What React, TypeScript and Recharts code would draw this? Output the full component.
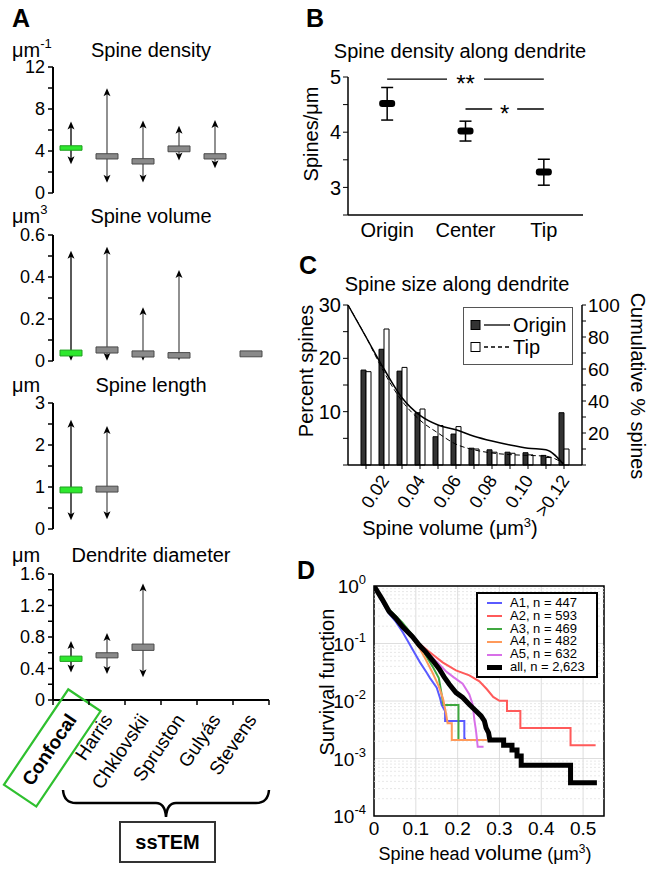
import React from 'react';
import {
  Bar,
  CartesianGrid,
  Cell,
  ComposedChart,
  ErrorBar,
  Legend,
  Line,
  LineChart,
  ReferenceArea,
  ReferenceLine,
  XAxis,
  YAxis,
} from 'recharts';

const FONT = '"Liberation Sans", Arial, Helvetica, sans-serif';

// ---------- A: confocal vs ssTEM studies ----------
const studies = ['Confocal', 'Harris', 'Chklovskii', 'Spruston', 'Gulyás', 'Stevens'];
const studyX = [0.5, 1.5, 2.5, 3.5, 4.5, 5.5];
const studyAxisTicks = [0, 0.5, 1, 1.5, 2, 2.5, 3, 3.5, 4, 4.5, 5, 5.5, 6];

const densityBox = [[4.07, 4.5], [3.24, 3.74], [2.76, 3.27], [3.93, 4.48], [3.24, 3.74], null];
const densityRange = [[2.75, 6.8], [0.98, 9.97], [1.0, 6.9], [3.1, 6.4], [2.35, 6.95], null];
const volumeBox = [[0.024, 0.052], [0.038, 0.067], [0.019, 0.048], [0.014, 0.04], null, [0.02, 0.048]];
const volumeRange = [[0.001, 0.525], [0.001, 0.544], [0.001, 0.256], [0.002, 0.433], null, null];
const lengthBox = [[0.86, 1.0], [0.88, 1.02], null, null, null, null];
const lengthRange = [[0.21, 2.6], [0.23, 2.45], null, null, null, null];
const diameterBox = [[0.49, 0.557], [0.535, 0.6], [0.63, 0.71], null, null, null];
const diameterRange = [[0.35, 0.75], [0.33, 0.85], [0.29, 1.48], null, null, null];

// ---------- B: density along dendrite ----------
const sites = ['Origin', 'Center', 'Tip'];
const siteMean = [4.52, 4.02, 3.28];
const siteLow = [4.22, 3.84, 3.04];
const siteHigh = [4.81, 4.2, 3.51];
const sigBars = [
  { from: 'Origin', to: 'Tip', y: 4.96, label: '**' },
  { from: 'Center', to: 'Tip', y: 4.42, label: '*' },
];

// ---------- C: spine size histogram ----------
const volBins = [0, 0.01, 0.02, 0.03, 0.04, 0.05, 0.06, 0.07, 0.08, 0.09, 0.1, 0.11, 0.12];
const originPct = [null, 17.8, 21.7, 17.6, 9.8, 5.3, 5.8, 3.15, 2.85, 2.4, 2.3, 1.8, 9.8];
const tipPct = [null, 17.5, 25.5, 18.3, 10.5, 7.4, 7.2, 3.0, 2.4, 2.2, 1.9, 1.4, 3.0];
const originCum = [100, 80, 60, 42, 31, 25, 22, 18, 15, 12.5, 10.5, 9.5, 0];
const tipCum = [100, 80, 58, 40, 28, 20, 13, 9.5, 7.5, 6.5, 6, 5.5, 1];
const volTicks = [0.01, 0.02, 0.03, 0.04, 0.05, 0.06, 0.07, 0.08, 0.09, 0.1, 0.11, 0.12];
const volTickLabels = ['', '0.02', '', '0.04', '', '0.06', '', '0.08', '', '0.10', '', '>0.12'];

// ---------- D: survival functions ----------
const a1Curve = [[0, 1], [0.02, 0.52], [0.036, 0.33], [0.052, 0.24], [0.068, 0.16], [0.078, 0.12], [0.094, 0.075], [0.11, 0.047], [0.125, 0.032], [0.134, 0.025], [0.15, 0.017], [0.158, 0.0112], [0.162, 0.0085], [0.17, 0.0067], [0.17, 0.0045], [0.216, 0.0045], [0.216, 0.0022], [0.22, 0.0022]];
const a2Curve = [[0, 1], [0.02, 0.6], [0.036, 0.38], [0.052, 0.28], [0.068, 0.2], [0.092, 0.135], [0.108, 0.1], [0.132, 0.072], [0.164, 0.047], [0.196, 0.034], [0.228, 0.028], [0.252, 0.022], [0.27, 0.016], [0.285, 0.0118], [0.3, 0.0101], [0.318, 0.0101], [0.318, 0.0067], [0.35, 0.0067], [0.35, 0.0034], [0.47, 0.0034], [0.47, 0.0017], [0.53, 0.0017]];
const a3Curve = [[0, 1], [0.02, 0.6], [0.036, 0.39], [0.052, 0.3], [0.068, 0.23], [0.09, 0.145], [0.108, 0.095], [0.124, 0.062], [0.14, 0.04], [0.155, 0.025], [0.162, 0.0128], [0.166, 0.0085], [0.202, 0.0085], [0.202, 0.0021], [0.268, 0.0021]];
const a4Curve = [[0, 1], [0.02, 0.58], [0.036, 0.38], [0.052, 0.29], [0.07, 0.2], [0.09, 0.13], [0.108, 0.085], [0.124, 0.052], [0.14, 0.031], [0.155, 0.018], [0.165, 0.011], [0.172, 0.0062], [0.176, 0.0041], [0.186, 0.0041], [0.186, 0.0021], [0.27, 0.0021]];
const a5Curve = [[0, 1], [0.02, 0.55], [0.036, 0.35], [0.052, 0.27], [0.07, 0.19], [0.09, 0.13], [0.11, 0.09], [0.13, 0.065], [0.15, 0.048], [0.172, 0.033], [0.19, 0.026], [0.212, 0.02], [0.228, 0.013], [0.236, 0.0087], [0.24, 0.0047], [0.244, 0.003], [0.248, 0.0016], [0.262, 0.0016]];
const allCurve = [[0, 1], [0.02, 0.58], [0.036, 0.36], [0.052, 0.276], [0.068, 0.197], [0.092, 0.131], [0.108, 0.094], [0.124, 0.071], [0.14, 0.051], [0.156, 0.036], [0.168, 0.026], [0.18, 0.0196], [0.196, 0.014], [0.212, 0.0115], [0.228, 0.0087], [0.244, 0.0067], [0.256, 0.0055], [0.264, 0.0045], [0.268, 0.0034], [0.274, 0.0028], [0.277, 0.0021], [0.31, 0.0021], [0.31, 0.0017], [0.33, 0.0017], [0.33, 0.0014], [0.342, 0.0014], [0.342, 0.0011], [0.352, 0.0011], [0.352, 0.00076], [0.47, 0.00076], [0.47, 0.00038], [0.533, 0.00038]];

const dSeries = [
  { name: 'A1, n = 447', curve: a1Curve, color: '#5a5aff', width: 2 },
  { name: 'A2, n = 593', curve: a2Curve, color: '#ff5a5a', width: 2 },
  { name: 'A3, n = 469', curve: a3Curve, color: '#40a840', width: 2 },
  { name: 'A4, n = 482', curve: a4Curve, color: '#ff9a5a', width: 2 },
  { name: 'A5, n = 632', curve: a5Curve, color: '#d870e8', width: 2 },
  { name: 'all, n = 2,623', curve: allCurve, color: '#000', width: 5 },
];
const decades = [0.0001, 0.001, 0.01, 0.1, 1];
const minorGrid = [
  0.0002, 0.0003, 0.0004, 0.0005, 0.0006, 0.0007, 0.0008, 0.0009,
  0.002, 0.003, 0.004, 0.005, 0.006, 0.007, 0.008, 0.009,
  0.02, 0.03, 0.04, 0.05, 0.06, 0.07, 0.08, 0.09,
  0.2, 0.3, 0.4, 0.5, 0.6, 0.7, 0.8, 0.9,
];

// ---------- shapes / ticks ----------
const Whisker = (props: any) => {
  const { x, y, width, height, payload } = props;
  if (height == null || !isFinite(y)) return null;
  const cx = x + width / 2;
  const top = y;
  const bot = y + height;
  const col = payload && payload.name === 'Confocal' ? '#000' : '#555';
  return (
    <g>
      <line x1={cx} x2={cx} y1={top + 5} y2={bot - 5} stroke={col} strokeWidth={1.3} />
      <path d={`M${cx},${top} L${cx - 3.5},${top + 8} L${cx},${top + 6} L${cx + 3.5},${top + 8} Z`} fill="#000" />
      <path d={`M${cx},${bot} L${cx - 3.5},${bot - 8} L${cx},${bot - 6} L${cx + 3.5},${bot - 8} Z`} fill="#000" />
    </g>
  );
};

const StudyTick = ({ x, y, payload }: any) => {
  const v = payload.value;
  if (Number.isInteger(v)) {
    return <line x1={x} x2={x} y1={y - 8} y2={y - 3} stroke="#000" strokeWidth={1.5} />;
  }
  const i = studyX.indexOf(v);
  const bold = i === 0;
  return (
    <g transform={`translate(${x + 1},${y + 8}) rotate(-56)`}>
      {bold && <rect x={-95} y={-18} width={115} height={39} fill="none" stroke="#2fc02f" strokeWidth={2.2} />}
      <text x={0} y={0} textAnchor="end" dominantBaseline="central" fontSize={19} fontWeight={bold ? 700 : 400} fill="#000" fontFamily={FONT}>
        {studies[i]}
      </text>
    </g>
  );
};

const MeanMark = ({ cx, cy }: any) => <rect x={cx - 8} y={cy - 3.5} width={16} height={7} rx={3} fill="#000" />;

const SigLabel = ({ viewBox, text }: any) => {
  if (!viewBox) return null;
  const cx = viewBox.x + viewBox.width / 2;
  const w = text.length === 2 ? 37 : 25;
  return (
    <g>
      <rect x={cx - w / 2} y={viewBox.y - 8} width={w} height={16} fill="#fff" />
      <text x={cx} y={viewBox.y + 13} textAnchor="middle" fontSize={24} fontFamily={FONT} fill="#000">
        {text}
      </text>
    </g>
  );
};

const VolTick = ({ x, y, index }: any) => {
  const label = volTickLabels[index];
  return (
    <g>
      <line x1={x} x2={x} y1={y - 8} y2={y - 4} stroke="#000" />
      {label && (
        <g transform={`translate(${x + 1},${y + 4}) rotate(-56)`}>
          <text x={0} y={0} textAnchor="end" dominantBaseline="central" fontSize={18} fontFamily={FONT} fill="#000">
            {label}
          </text>
        </g>
      )}
    </g>
  );
};

const PowTick = ({ x, y, payload }: any) => {
  const e = Math.round(Math.log10(payload.value));
  return (
    <text x={x} y={y + 7} textAnchor="end" fontSize={19} fontFamily={FONT} fill="#000">
      <tspan>10</tspan>
      <tspan fontSize={13} dy={-9}>{String(e)}</tspan>
    </text>
  );
};

const CLegend = () => (
  <div style={{ position: 'relative', width: 110, height: 58, border: '1px solid #555', boxSizing: 'border-box', background: '#fff', fontFamily: FONT, fontSize: 20 }}>
    {[
      { name: 'Origin', fill: '#333', dash: undefined },
      { name: 'Tip', fill: '#fff', dash: '4 3' },
    ].map((s, i) => (
      <div key={s.name} style={{ position: 'absolute', left: 6, top: 6 + i * 22, height: 22, display: 'flex', alignItems: 'center' }}>
        <svg width={42} height={12}>
          <rect x={1} y={1.5} width={9} height={9} fill={s.fill} stroke="#000" />
          <line x1={14} x2={40} y1={6} y2={6} stroke="#000" strokeWidth={1.3} strokeDasharray={s.dash} />
        </svg>
        <span style={{ marginLeft: 1, lineHeight: '22px' }}>{s.name}</span>
      </div>
    ))}
  </div>
);

const DLegend = ({ payload }: any) => (
  <div style={{ position: 'relative', width: 122, height: 86, border: '2px solid #000', boxSizing: 'border-box', background: '#fff', fontFamily: FONT, fontSize: 13 }}>
    {(payload || []).map((p: any, i: number) => {
      const s = dSeries.find((d) => d.name === p.value);
      return (
        <div key={p.value} style={{ position: 'absolute', left: 9, top: 3 + i * 12.8, height: 12.8, display: 'flex', alignItems: 'center', whiteSpace: 'nowrap' }}>
          <span style={{ display: 'inline-block', width: 15, height: s ? s.width : 2, background: p.color }} />
          <span style={{ marginLeft: 8, lineHeight: '12.8px' }}>{p.value}</span>
        </div>
      );
    })}
  </div>
);

// ---------- panel A chart ----------
type StudyPanelProps = {
  box: (number[] | null)[];
  range: (number[] | null)[];
  max: number;
  ticks: number[];
  labels: number[];
  top: number;
  axis?: boolean;
};

const StudyChart = ({ box, range, max, ticks, labels, top, axis }: StudyPanelProps) => {
  const rows = studies.map((name, i) => ({ name, x: studyX[i], box: box[i], range: range[i] }));
  return (
    <div style={{ position: 'absolute', left: 0, top }}>
      <ComposedChart width={275} height={axis ? 256 : 145} data={rows} margin={{ top: 10, right: 6, bottom: axis ? 0 : 9, left: 0 }}>
        <XAxis xAxisId="w" type="number" dataKey="x" domain={[0, 6]} hide />
        <XAxis
          xAxisId="s"
          type="number"
          dataKey="x"
          domain={[0, 6]}
          ticks={studyAxisTicks}
          interval={0}
          hide={!axis}
          height={120}
          tick={<StudyTick />}
          tickLine={false}
          axisLine={{ stroke: '#000', strokeWidth: 2 }}
        />
        <YAxis
          type="number"
          domain={[0, max]}
          ticks={ticks}
          interval={0}
          tickFormatter={(v: number) => (labels.includes(v) ? String(v) : '')}
          width={53}
          tickSize={5}
          tickMargin={3}
          axisLine={{ stroke: '#000', strokeWidth: 2 }}
          tickLine={{ stroke: '#000', strokeWidth: 1.5 }}
          tick={{ fill: '#000', fontSize: 18, fontFamily: FONT }}
        />
        <Bar xAxisId="w" dataKey="range" barSize={12} shape={<Whisker />} isAnimationActive={false} />
        <Bar xAxisId="s" dataKey="box" barSize={22} isAnimationActive={false}>
          {rows.map((r, i) => (
            <Cell key={r.name} fill={i === 0 ? '#2ee82e' : '#8a8a8a'} stroke={i === 0 ? '#1f9f1f' : '#4a4a4a'} strokeWidth={1} />
          ))}
        </Bar>
      </ComposedChart>
    </div>
  );
};

export default function App() {
  const bData = sites.map((name, i) => ({
    name,
    mean: siteMean[i],
    err: [siteMean[i] - siteLow[i], siteHigh[i] - siteMean[i]],
  }));
  const cData = volBins.map((v, i) => ({
    v,
    origin: originPct[i],
    tip: tipPct[i],
    originCum: originCum[i],
    tipCum: tipCum[i],
  }));

  return (
    <div style={{ position: 'absolute', left: 0, top: 0, width: 651, height: 869, background: '#fff', fontFamily: FONT, overflow: 'hidden' }}>
      {/* Panel A */}
      <StudyChart box={densityBox} range={densityRange} max={12} ticks={[0, 2, 4, 6, 8, 10, 12]} labels={[0, 4, 8, 12]} top={57} />
      <StudyChart box={volumeBox} range={volumeRange} max={0.6} ticks={[0, 0.1, 0.2, 0.3, 0.4, 0.5, 0.6]} labels={[0, 0.2, 0.4, 0.6]} top={225} />
      <StudyChart box={lengthBox} range={lengthRange} max={3} ticks={[0, 0.5, 1, 1.5, 2, 2.5, 3]} labels={[0, 1, 2, 3]} top={393} />
      <StudyChart box={diameterBox} range={diameterRange} max={1.6} ticks={[0, 0.2, 0.4, 0.6, 0.8, 1, 1.2, 1.4, 1.6]} labels={[0, 0.4, 0.8, 1.2, 1.6]} top={564} axis />

      {/* Panel B */}
      <div style={{ position: 'absolute', left: 300, top: 65 }}>
        <ComposedChart width={293} height={185} data={bData} margin={{ top: 12, right: 10, bottom: 5, left: 0 }}>
          <XAxis dataKey="name" type="category" scale="band" interval={0} tickLine={false} height={30} axisLine={{ stroke: '#000', strokeWidth: 1.5 }} tick={{ fill: '#000', fontSize: 20, fontFamily: FONT }} />
          <YAxis
            domain={[2.5, 5]}
            ticks={[2.5, 3, 3.5, 4, 4.5, 5]}
            interval={0}
            tickFormatter={(v: number) => (Number.isInteger(v) ? String(v) : '')}
            width={48}
            tickSize={5}
            axisLine={{ stroke: '#000', strokeWidth: 1.5 }}
            tickLine={{ stroke: '#000' }}
            tick={{ fill: '#000', fontSize: 20, fontFamily: FONT }}
          />
          {sigBars.map((s) => (
            <ReferenceLine
              key={s.label}
              segment={[{ x: s.from, y: s.y }, { x: s.to, y: s.y }]}
              stroke="#000"
              strokeWidth={1.3}
              label={<SigLabel text={s.label} />}
            />
          ))}
          <Line dataKey="mean" stroke="none" dot={<MeanMark />} activeDot={false} isAnimationActive={false}>
            <ErrorBar dataKey="err" direction="y" width={6} stroke="#000" strokeWidth={1.5} />
          </Line>
        </ComposedChart>
      </div>

      {/* Panel C */}
      <div style={{ position: 'absolute', left: 290, top: 295 }}>
        <ComposedChart width={332} height={232} data={cData} margin={{ top: 10, right: 0, bottom: 5, left: 0 }} barGap={0}>
          <XAxis dataKey="v" type="number" domain={[0, 0.13]} ticks={volTicks} interval={0} height={57} tick={<VolTick />} tickLine={false} axisLine={{ stroke: '#000', strokeWidth: 1.5 }} />
          <YAxis
            yAxisId="left"
            domain={[0, 30]}
            ticks={[0, 5, 10, 15, 20, 25, 30]}
            interval={0}
            tickFormatter={(v: number) => (v % 10 === 0 && v > 0 ? String(v) : '')}
            width={58}
            tickSize={5}
            axisLine={{ stroke: '#000', strokeWidth: 1.5 }}
            tickLine={{ stroke: '#000' }}
            tick={{ fill: '#000', fontSize: 20, fontFamily: FONT }}
          />
          <YAxis
            yAxisId="right"
            orientation="right"
            domain={[0, 100]}
            ticks={[0, 10, 20, 30, 40, 50, 60, 70, 80, 90, 100]}
            interval={0}
            tickFormatter={(v: number) => (v % 20 === 0 && v > 0 ? String(v) : '')}
            width={40}
            tickSize={4}
            axisLine={{ stroke: '#000', strokeWidth: 1.5 }}
            tickLine={{ stroke: '#000' }}
            tick={{ fill: '#000', fontSize: 19, fontFamily: FONT }}
          />
          <Bar yAxisId="left" dataKey="origin" name="Origin" barSize={5} fill="#333" stroke="#000" strokeWidth={1} isAnimationActive={false} />
          <Bar yAxisId="left" dataKey="tip" name="Tip" barSize={5} fill="#fff" stroke="#000" strokeWidth={1} isAnimationActive={false} />
          <Line yAxisId="right" dataKey="originCum" type="monotone" stroke="#000" strokeWidth={1.5} dot={false} activeDot={false} isAnimationActive={false} />
          <Line yAxisId="right" dataKey="tipCum" type="monotone" stroke="#000" strokeWidth={1} strokeDasharray="5 3" dot={false} activeDot={false} isAnimationActive={false} />
          <Legend layout="vertical" align="center" verticalAlign="middle" wrapperStyle={{ left: 173, top: 12, width: 110 }} content={<CLegend />} />
        </ComposedChart>
      </div>

      {/* Panel D */}
      <div style={{ position: 'absolute', left: 310, top: 568 }}>
        <LineChart width={304} height={278} margin={{ top: 18, right: 10, bottom: 2, left: 0 }}>
          <CartesianGrid stroke="#d6d6d6" strokeWidth={0.8} />
          {minorGrid.map((g) => (
            <ReferenceLine key={g} y={g} stroke="#e2e2e2" strokeWidth={0.8} strokeDasharray="2 2" />
          ))}
          <XAxis
            dataKey="x"
            type="number"
            domain={[0, 0.55]}
            ticks={[0, 0.1, 0.2, 0.3, 0.4, 0.5]}
            interval={0}
            allowDataOverflow
            height={28}
            tickLine={false}
            tickMargin={0}
            axisLine={false}
            tick={{ fill: '#000', fontSize: 19, fontFamily: FONT }}
          />
          <YAxis
            scale="log"
            type="number"
            domain={[0.0001, 1]}
            ticks={decades}
            interval={0}
            allowDataOverflow
            width={64}
            tickLine={false}
            axisLine={false}
            tick={<PowTick />}
          />
          {dSeries.map((s) => (
            <Line
              key={s.name}
              name={s.name}
              data={s.curve.map(([x, y]) => ({ x, y }))}
              dataKey="y"
              type="linear"
              stroke={s.color}
              strokeWidth={s.width}
              dot={false}
              activeDot={false}
              isAnimationActive={false}
            />
          ))}
          <ReferenceArea x1={0} x2={0.55} y1={0.0001} y2={1} fill="none" fillOpacity={0} stroke="#000" strokeWidth={1.5} />
          <Legend layout="vertical" align="center" verticalAlign="middle" wrapperStyle={{ left: 166, top: 24, width: 122 }} content={<DLegend />} />
        </LineChart>
      </div>

      {/* labels and annotations */}
      <svg width={651} height={869} style={{ position: 'absolute', left: 0, top: 0, pointerEvents: 'none' }} fontFamily={FONT} fill="#000">
        <text x={12} y={27} fontSize={25} fontWeight={700}>A</text>
        <text x={306} y={27} fontSize={25} fontWeight={700}>B</text>
        <text x={299} y={274} fontSize={25} fontWeight={700}>C</text>
        <text x={297} y={579} fontSize={25} fontWeight={700}>D</text>

        <text x={12} y={57} fontSize={20}>μm<tspan fontSize={13} dy={-9}>-1</tspan></text>
        <text x={151} y={57} fontSize={20} textAnchor="middle">Spine density</text>
        <text x={12} y={223} fontSize={20}>μm<tspan fontSize={13} dy={-9}>3</tspan></text>
        <text x={151} y={223} fontSize={20} textAnchor="middle">Spine volume</text>
        <text x={12} y={392} fontSize={20}>μm</text>
        <text x={151} y={392} fontSize={20} textAnchor="middle">Spine length</text>
        <text x={12} y={562} fontSize={20}>μm</text>
        <text x={151} y={562} fontSize={20} textAnchor="middle">Dendrite diameter</text>

        <path d="M63,790 Q64,803 76,803 L156,803 Q165,803 166,817 Q167,803 176,803 L256,803 Q268,803 269,790" fill="none" stroke="#000" strokeWidth={2.5} />
        <rect x={120} y={822} width={95} height={40} fill="#fff" stroke="#333" strokeWidth={2} />
        <text x={167.5} y={849} fontSize={20} fontWeight={700} textAnchor="middle">ssTEM</text>

        <text x={460} y={58} fontSize={20} textAnchor="middle">Spine density along dendrite</text>
        <text transform="translate(318,134) rotate(-90)" fontSize={20} textAnchor="middle">Spines/μm</text>

        <text x={457} y={291} fontSize={20} textAnchor="middle">Spine size along dendrite</text>
        <text transform="translate(313,371) rotate(-90)" fontSize={20} textAnchor="middle">Percent spines</text>
        <text transform="translate(631,386) rotate(90)" fontSize={20} textAnchor="middle">Cumulative % spines</text>
        <text x={450} y={535} fontSize={20} textAnchor="middle">Spine volume (μm<tspan fontSize={13} dy={-8}>3</tspan><tspan dy={8}>)</tspan></text>

        <text transform="translate(334,682) rotate(-90)" fontSize={20} textAnchor="middle">Survival function</text>
        <text x={485} y={860} fontSize={18} textAnchor="middle">Spine head <tspan fontSize={21}>volume</tspan> (μm<tspan fontSize={12} dy={-7}>3</tspan><tspan dy={7}>)</tspan></text>
      </svg>
    </div>
  );
}
